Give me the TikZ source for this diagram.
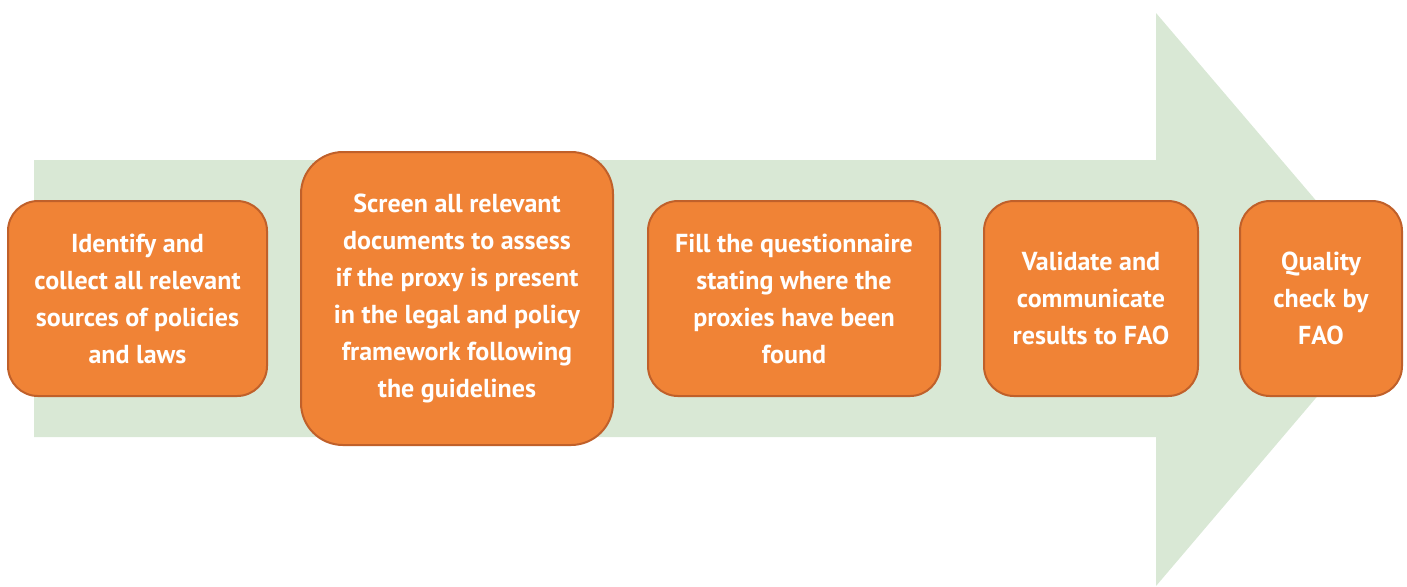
\documentclass[tikz,border=0pt]{standalone}
\usepackage{fontspec}
\setmainfont{PT Sans}
\usepackage{tikz}
\usetikzlibrary{positioning}
\definecolor{bandgreen}{HTML}{D9E8D5}
\definecolor{boxorange}{HTML}{F08336}
\definecolor{boxedge}{HTML}{C0602A}

\tikzset{stepbox/.style={draw=boxedge, line width=1pt, fill=boxorange,
    rounded corners=15pt, text=white, align=center, inner sep=0pt,
    font=\bfseries\fontsize{13}{18.5}\selectfont}}

\begin{document}
\begin{tikzpicture}[x=0.5pt, y=-0.5pt]
    \useasboundingbox (0,0) rectangle (1407,586);
    % the big arrow in the back
    \fill[bandgreen] (34,160) -- (1156,160) -- (1156,13) -- (1400,299)
        -- (1156,586) -- (1156,437) -- (34,437) -- cycle;

    \node[stepbox, minimum width=129.5pt, minimum height=97.5pt] (s1) at (137.5,298.5)
        {Identify and\\collect all relevant\\sources of policies\\and laws};
    \node[stepbox, rounded corners=21pt, minimum width=156pt, minimum height=146.5pt] (s2) at (457,298.5)
        {Screen all relevant\\documents to assess\\if the proxy is present\\in the legal and policy\\framework following\\the guidelines};
    \node[stepbox, minimum width=146pt, minimum height=97.5pt] (s3) at (794,298.5)
        {Fill the questionnaire\\stating where the\\proxies have been\\found};
    \node[stepbox, minimum width=107pt, minimum height=97.5pt] (s4) at (1091,298.5)
        {Validate and\\communicate\\results to FAO};
    \node[stepbox, minimum width=81pt, minimum height=97.5pt] (s5) at (1321,298.5)
        {Quality\\check by\\FAO};
\end{tikzpicture}
\end{document}
